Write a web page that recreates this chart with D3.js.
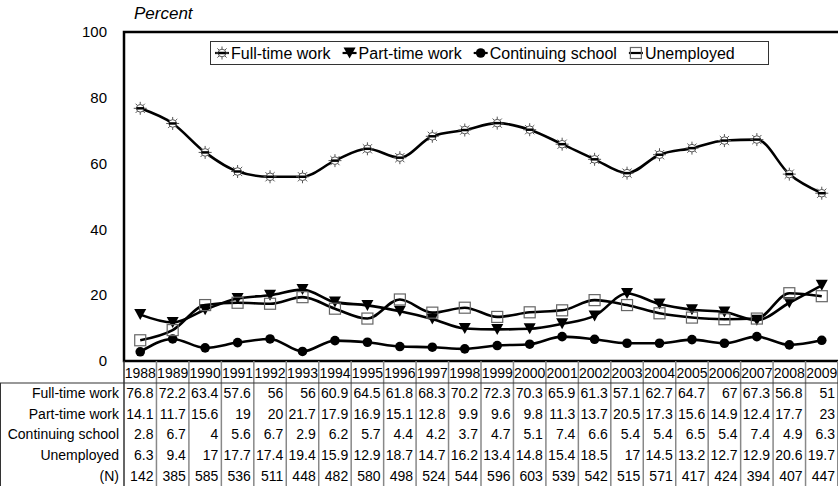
<!DOCTYPE html>
<html><head><meta charset="utf-8">
<script src="https://cdn.jsdelivr.net/npm/d3@7"></script>
<style>body{margin:0;background:#fff}svg{display:block;font-family:"Liberation Sans",Arial,sans-serif}</style>
</head><body><svg id="c" width="838" height="486"></svg>
<script>
const years = ["1988","1989","1990","1991","1992","1993","1994","1995","1996","1997","1998","1999","2000","2001","2002","2003","2004","2005","2006","2007","2008","2009"];
const fullTime = [76.8,72.2,63.4,57.6,56,56,60.9,64.5,61.8,68.3,70.2,72.3,70.3,65.9,61.3,57.1,62.7,64.7,67,67.3,56.8,51];
const partTime = [14.1,11.7,15.6,19,20,21.7,17.9,16.9,15.1,12.8,9.9,9.6,9.8,11.3,13.7,20.5,17.3,15.6,14.9,12.4,17.7,23];
const school = [2.8,6.7,4,5.6,6.7,2.9,6.2,5.7,4.4,4.2,3.7,4.7,5.1,7.4,6.6,5.4,5.4,6.5,5.4,7.4,4.9,6.3];
const unemployed = [6.3,9.4,17,17.7,17.4,19.4,15.9,12.9,18.7,14.7,16.2,13.4,14.8,15.4,18.5,17,14.5,13.2,12.7,12.9,20.6,19.7];
const nCounts = [142,385,585,536,511,448,482,580,498,524,544,596,603,539,542,515,571,417,424,394,407,447];
const seriesNames = ["Full-time work","Part-time work","Continuing school","Unemployed"];
const yTicks = [0,20,40,60,80,100];

const series = [
  {name: seriesNames[0], values: fullTime, marker: "sun"},
  {name: seriesNames[1], values: partTime, marker: "tri"},
  {name: seriesNames[2], values: school, marker: "dot"},
  {name: seriesNames[3], values: unemployed, marker: "sq"}
];

const svg = d3.select("#c");
const L = 124, R = 838, T = 32, B = 361;
const x = d3.scaleBand().domain(years).range([L, R]);
const y = d3.scaleLinear().domain([0, 100]).range([B, T]);
const cx = d => x(d) + x.bandwidth() / 2;

svg.append("text").attr("x", 134).attr("y", 19).attr("font-size", 17).attr("font-style", "italic").text("Percent");

svg.append("g").selectAll("text").data(yTicks).join("text")
  .attr("x", 107).attr("y", d => y(d)).attr("dy", "0.35em").attr("text-anchor", "end")
  .attr("font-size", 15).text(d => d);

function drawMarker(g, type) {
  if (type === "sun") {
    const rays = d3.range(8).map(i => {
      const a = i * Math.PI / 4;
      return `M${(3.5*Math.cos(a)).toFixed(2)},${(3.5*Math.sin(a)).toFixed(2)}L${(6.5*Math.cos(a)).toFixed(2)},${(6.5*Math.sin(a)).toFixed(2)}`;
    }).join("");
    g.append("path").attr("d", rays).attr("stroke", "#555").attr("stroke-width", 1).attr("fill", "none");
    g.append("circle").attr("r", 3.8).attr("fill", "#fff").attr("stroke", "#555").attr("stroke-width", 1);
    g.append("path").attr("d", "M-3.8,0H3.8").attr("stroke", "#000").attr("stroke-width", 2.5);
  } else if (type === "tri") {
    g.append("path").attr("d", "M-6,-5.5H6L0,5.5Z").attr("fill", "#000");
  } else if (type === "dot") {
    g.append("circle").attr("r", 4.8).attr("fill", "#000");
  } else if (type === "sq") {
    g.append("rect").attr("x", -5.5).attr("y", -5.5).attr("width", 11).attr("height", 11)
      .attr("fill", "none").attr("stroke", "#666").attr("stroke-width", 1.2);
  }
}

const line = d3.line().x((d, i) => cx(years[i])).y(d => y(d)).curve(d3.curveMonotoneX);
const plot = svg.append("g");
series.forEach(s => {
  plot.append("path").attr("d", line(s.values)).attr("fill", "none").attr("stroke", "#000").attr("stroke-width", 2.6);
});
series.forEach(s => {
  s.values.forEach((v, i) => {
    const g = plot.append("g").attr("transform", `translate(${cx(years[i])},${y(v)})`);
    drawMarker(g, s.marker);
  });
});

svg.append("path").attr("d", `M${R},${T}H${L}V${B}H${R}`).attr("fill", "none").attr("stroke", "#000").attr("stroke-width", 2.5);

// legend
const leg = svg.append("g");
leg.append("rect").attr("x", 210.5).attr("y", 41.5).attr("width", 558).attr("height", 23)
  .attr("fill", "#fff").attr("stroke", "#333").attr("stroke-width", 1);
let lx = 215;
series.forEach((s, i) => {
  const g = leg.append("g").attr("transform", `translate(${lx + 7},53)`);
  g.append("path").attr("d", "M-7,0H7").attr("stroke", "#000").attr("stroke-width", 2.2);
  drawMarker(g, s.marker);
  const t = g.append("text").attr("x", 9).attr("dy", "0.35em").attr("font-size", 16).text(s.name);
  lx += 7 + 9 + t.node().getComputedTextLength() + 12;
});

// data table
const rows = [
  {label: seriesNames[0], values: fullTime},
  {label: seriesNames[1], values: partTime},
  {label: seriesNames[2], values: school},
  {label: seriesNames[3], values: unemployed},
  {label: "(N)", values: nCounts}
];
const hdrTop = B, hdrBot = 383, rowH = 20.6;
const tbl = svg.append("g").attr("font-size", 14);
years.forEach((yr, i) => {
  if (i === 0) return;
  tbl.append("line").attr("x1", x(yr)).attr("x2", x(yr)).attr("y1", hdrTop).attr("y2", 486)
    .attr("stroke", "#888").attr("stroke-width", 1.5);
});
tbl.append("line").attr("x1", R - 0.5).attr("x2", R - 0.5).attr("y1", hdrTop).attr("y2", 486).attr("stroke", "#888");
tbl.append("line").attr("x1", L).attr("x2", L).attr("y1", hdrTop).attr("y2", 486).attr("stroke", "#333").attr("stroke-width", 1.5);
tbl.append("line").attr("x1", 0.5).attr("x2", 0.5).attr("y1", hdrBot).attr("y2", 486).attr("stroke", "#333");
tbl.append("line").attr("x1", 0).attr("x2", R).attr("y1", hdrBot).attr("y2", hdrBot).attr("stroke", "#333").attr("stroke-width", 1.2);
tbl.selectAll("text.yr").data(years).join("text").attr("class", "yr")
  .attr("x", d => cx(d)).attr("y", (hdrTop + hdrBot) / 2 + 1).attr("dy", "0.35em")
  .attr("text-anchor", "middle").text(d => d);
rows.forEach((r, ri) => {
  const yc = hdrBot + rowH * ri + rowH / 2;
  tbl.append("text").attr("x", 119).attr("y", yc).attr("dy", "0.35em").attr("text-anchor", "end").text(r.label);
  r.values.forEach((v, i) => {
    tbl.append("text").attr("x", x(years[i]) + x.bandwidth() - 3).attr("y", yc).attr("dy", "0.35em")
      .attr("text-anchor", "end").text(v);
  });
});
</script></body></html>
